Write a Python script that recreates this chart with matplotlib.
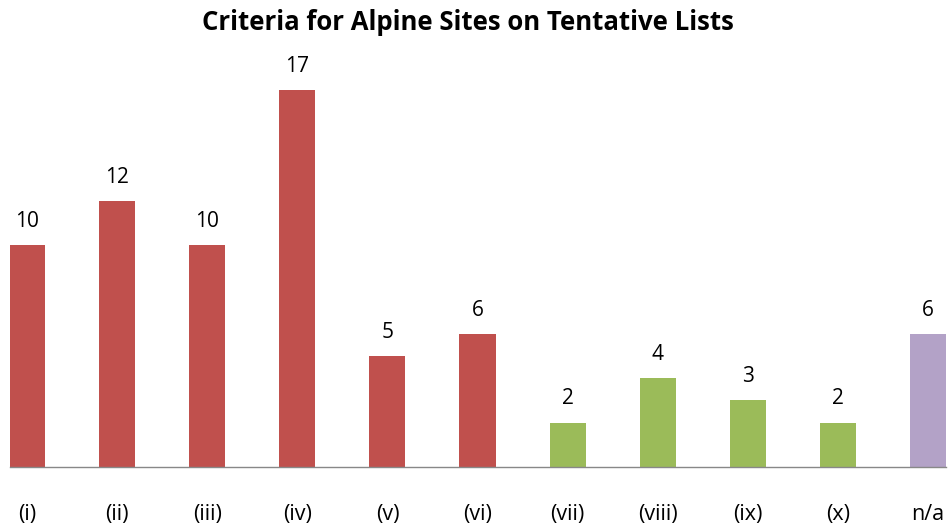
import matplotlib
matplotlib.use('Agg')
import matplotlib.pyplot as plt

categories = ['(i)', '(ii)', '(iii)', '(iv)', '(v)', '(vi)', '(vii)', '(viii)', '(ix)', '(x)', 'n/a']
counts = [10, 12, 10, 17, 5, 6, 2, 4, 3, 2, 6]
bar_colors = ['#C0504D'] * 6 + ['#9BBB59'] * 4 + ['#B3A2C7']

plt.rcParams['font.family'] = ['Open Sans', 'DejaVu Sans']

W, H = 948, 524
fig = plt.figure(figsize=(W / 100, H / 100), dpi=100)

# pixel layout
base_px = 467
unit_px = 22.18
ymax = 20
left_px, right_px = 10, 946
ax = fig.add_axes([left_px / W, 1 - base_px / H, (right_px - left_px) / W, ymax * unit_px / H])

x = list(range(len(categories)))
ax.bar(x, counts, width=0.4, color=bar_colors)
for xi, v in zip(x, counts):
    ax.text(xi, v + 0.6, str(v), ha='center', va='bottom', fontsize=15)

ax.set_xlim(-0.189, 10.2)
ax.set_ylim(0, ymax)
ax.set_yticks([])
ax.set_xticks(x)
ax.set_xticklabels(categories, fontsize=15.5)
ax.tick_params(axis='x', length=0, pad=26.5)
for side in ['top', 'right', 'left']:
    ax.spines[side].set_visible(False)
ax.spines['bottom'].set_color('#888888')
ax.spines['bottom'].set_linewidth(1)

fig.text(468 / W, 1 - 22 / H, 'Criteria for Alpine Sites on Tentative Lists',
         ha='center', va='center', fontsize=18.5, fontweight='bold')

fig.savefig('out.png', dpi=100)
